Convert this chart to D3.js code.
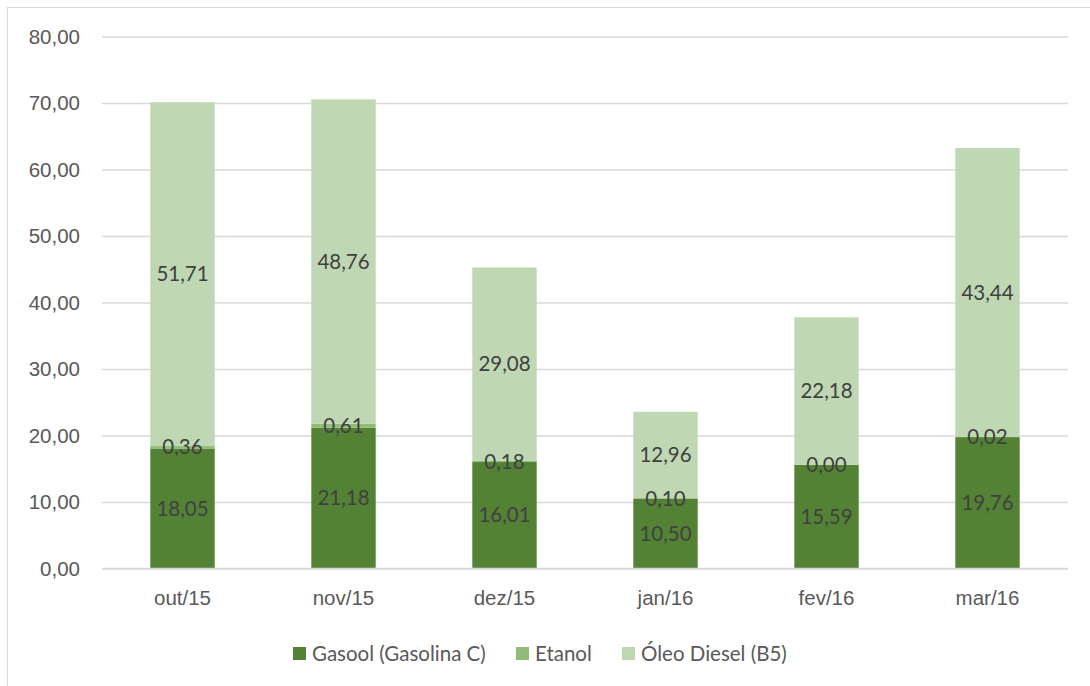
<!DOCTYPE html>
<html>
<head>
<meta charset="utf-8">
<script src="https://cdn.jsdelivr.net/npm/d3@7"></script>
<style>
  body { margin: 0; background: #fff; }
  svg { font-family: Lato, 'Open Sans', sans-serif; }
</style>
</head>
<body>
<svg width="1090" height="686"></svg>
<script>
'use strict';

const months = ['out/15', 'nov/15', 'dez/15', 'jan/16', 'fev/16', 'mar/16']
const gasool = [18.05, 21.18, 16.01, 10.50, 15.59, 19.76]
const etanol = [0.36, 0.61, 0.18, 0.10, 0.00, 0.02]
const diesel = [51.71, 48.76, 29.08, 12.96, 22.18, 43.44]
const seriesNames = ['Gasool (Gasolina C)', 'Etanol', 'Óleo Diesel (B5)']
const yTicks = [0, 10, 20, 30, 40, 50, 60, 70, 80]

const colors = ['#548235', '#8fbc78', '#bfd8b3']
const fmt = (v) => v.toFixed(2).replace('.', ',')
const fontSize = '20.5px'

const svg = d3.select('svg')
const margin = {top: 36.5, left: 102, right: 22, bottom: 117.5}
const width = 1090 - margin.left - margin.right
const height = 686 - margin.top - margin.bottom

// chart frame
svg.append('rect')
  .attr('x', 7.5).attr('y', 7.5)
  .attr('width', 1100).attr('height', 700)
  .attr('fill', 'none').attr('stroke', '#d9d9d9')

const g = svg.append('g').attr('transform', 'translate(' + margin.left + ',' + margin.top + ')')

const x = d3.scaleBand().domain(months).range([0, width]).paddingInner(0.6).paddingOuter(0.3)
const y = d3.scaleLinear().domain([0, 80]).range([height, 0])

const rows = months.map((m, i) => ({month: m, s0: gasool[i], s1: etanol[i], s2: diesel[i]}))
const stacked = d3.stack().keys(['s0', 's1', 's2'])(rows)

// grid
const yAxis = d3.axisLeft(y).tickValues(yTicks).tickSize(-width).tickFormat(fmt).tickPadding(22)
const ya = g.append('g').call(yAxis)
ya.select('.domain').remove()
ya.selectAll('.tick line').attr('stroke', '#d9d9d9').attr('stroke-width', 1.3)
ya.selectAll('.tick text').attr('fill', '#595959').style('font-size', fontSize)

// bars
stacked.forEach((layer, k) => {
  g.append('g').selectAll('rect')
    .data(layer)
    .enter().append('rect')
    .attr('x', (d) => x(d.data.month))
    .attr('width', x.bandwidth())
    .attr('y', (d) => y(d[1]))
    .attr('height', (d) => y(d[0]) - y(d[1]))
    .attr('fill', colors[k])
})

// baseline
g.append('line').attr('x1', 0).attr('x2', width).attr('y1', y(0)).attr('y2', y(0))
  .attr('stroke', '#d9d9d9').attr('stroke-width', 1.3)

// data labels
stacked.forEach((layer) => {
  g.append('g').selectAll('text')
    .data(layer)
    .enter().append('text')
    .attr('x', (d) => x(d.data.month) + x.bandwidth() / 2)
    .attr('y', (d) => y((d[0] + d[1]) / 2))
    .attr('dy', '0.35em')
    .attr('text-anchor', 'middle')
    .attr('fill', '#404040')
    .style('font-size', fontSize)
    .text((d) => fmt(d[1] - d[0]))
})

// x axis labels
const xa = g.append('g').attr('transform', 'translate(0,' + height + ')')
  .call(d3.axisBottom(x).tickSize(0).tickPadding(22))
xa.select('.domain').remove()
xa.selectAll('.tick text').attr('fill', '#595959').style('font-size', fontSize)

// legend
const legendX = [293, 516, 622]
const legend = svg.append('g')
seriesNames.forEach((name, i) => {
  legend.append('rect').attr('x', legendX[i]).attr('y', 647).attr('width', 13).attr('height', 13).attr('fill', colors[i])
  legend.append('text').attr('x', legendX[i] + 19).attr('y', 653.5).attr('dy', '0.35em')
    .attr('fill', '#595959').style('font-size', fontSize).text(name)
})
</script>
</body>
</html>
